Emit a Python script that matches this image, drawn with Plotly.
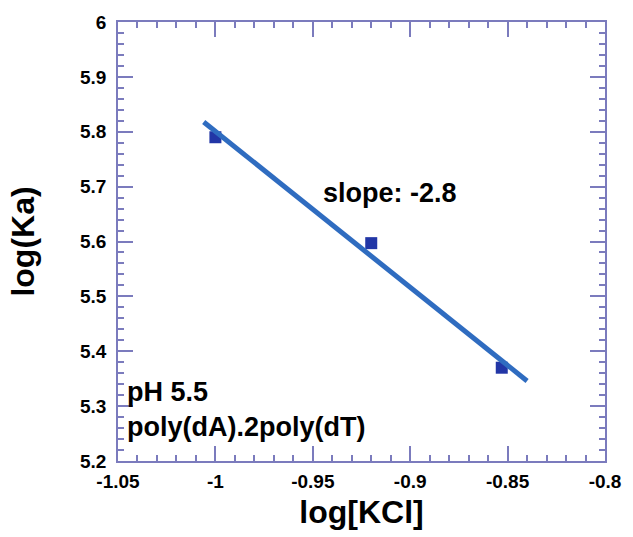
import numpy as np
import plotly.graph_objects as go

# Binding constant vs. salt concentration
log_kcl = [-1.0, -0.92, -0.853]
log_ka = [5.79, 5.597, 5.37]

x_ticks = [-1.05, -1.0, -0.95, -0.9, -0.85, -0.8]
x_labels = ["-1.05", "-1", "-0.95", "-0.9", "-0.85", "-0.8"]
y_ticks = [5.2, 5.3, 5.4, 5.5, 5.6, 5.7, 5.8, 5.9, 6.0]
y_labels = ["5.2", "5.3", "5.4", "5.5", "5.6", "5.7", "5.8", "5.9", "6"]

fit_range = [-1.006, -0.84]

slope, intercept = np.polyfit(log_kcl, log_ka, 1)
fit_x = np.array(fit_range)
fit_y = slope * fit_x + intercept

axis_color = "#7b7bbd"
font_family = "Liberation Sans, Arial, sans-serif"


def bold(s):
    return f"<b>{s}</b>"


fig = go.Figure()
# data points sit underneath the fitted line
fig.add_trace(go.Scatter(
    x=log_kcl, y=log_ka, mode="markers",
    marker=dict(symbol="square", size=12, color="#2236a6"),
    showlegend=False,
))
fig.add_trace(go.Scatter(
    x=fit_x, y=fit_y, mode="lines",
    line=dict(color="#2f6cc0", width=5),
    showlegend=False,
))

common_axis = dict(
    showline=True, linecolor=axis_color, linewidth=1.5,
    mirror="ticks", ticks="inside", ticklen=15, tickwidth=1.5,
    tickcolor=axis_color, showgrid=False, zeroline=False,
    tickfont=dict(family=font_family, size=19, color="black", weight="bold"),
)

fig.update_xaxes(
    range=[-1.05, -0.8], tickvals=x_ticks, ticktext=x_labels,
    ticklabelstandoff=2,
    minor=dict(dtick=0.01, ticks="inside", ticklen=6, tickcolor=axis_color, tickwidth=1.5),
    title=dict(text=bold("log[KCl]"), font=dict(family=font_family, size=32, color="black"), standoff=10),
    **common_axis,
)
fig.update_yaxes(
    range=[5.2, 6.0], tickvals=y_ticks, ticktext=y_labels,
    ticklabelstandoff=6,
    minor=dict(dtick=0.02, ticks="inside", ticklen=6, tickcolor=axis_color, tickwidth=1.5),
    title=dict(text=bold("log(Ka)"), font=dict(family=font_family, size=32, color="black"), standoff=36),
    **common_axis,
)

ann_font = dict(family=font_family, size=27, color="black")
fig.add_annotation(x=-0.9106, y=5.688, text=bold("slope: -2.8"), showarrow=False,
                   xanchor="center", yanchor="middle", font=ann_font)
fig.add_annotation(x=-1.0465, y=5.326, text=bold("pH 5.5"), showarrow=False,
                   xanchor="left", yanchor="middle", font=ann_font)
fig.add_annotation(x=-1.0465, y=5.262, text=bold("poly(dA).2poly(dT)"), showarrow=False,
                   xanchor="left", yanchor="middle", font=ann_font)

fig.update_layout(
    width=633, height=537,
    margin=dict(l=118, r=20, t=22, b=76),
    paper_bgcolor="white", plot_bgcolor="white",
)

fig.write_html("out.html")
